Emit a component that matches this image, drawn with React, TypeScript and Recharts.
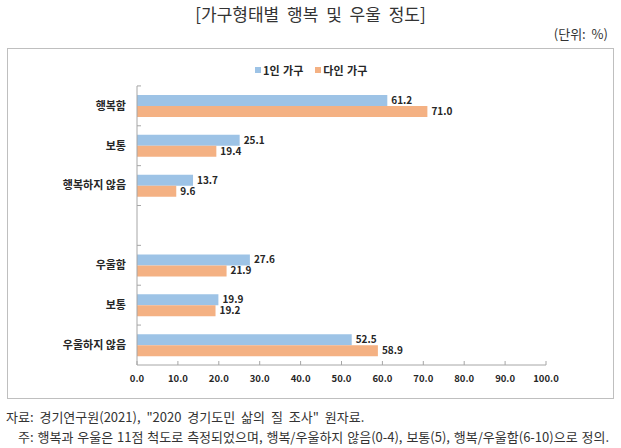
import React from 'react';
import { BarChart, Bar, XAxis, YAxis, LabelList } from 'recharts';

const COLORS = {
  single: '#9DC3E6',
  multi: '#F4B183',
  axis: '#A6A6A6',
  text: '#262626',
};

const FONT = '"Noto Sans CJK KR", "Noto Sans", sans-serif';

// categories, top to bottom; the empty one is the spacer row between the two groups
const categories = ['행복함', '보통', '행복하지 않음', '', '우울함', '보통', '우울하지 않음'];
const singleHousehold = [61.2, 25.1, 13.7, null, 27.6, 19.9, 52.5];
const multiHousehold = [71.0, 19.4, 9.6, null, 21.9, 19.2, 58.9];
const xTicks = [0, 10, 20, 30, 40, 50, 60, 70, 80, 90, 100];

const data = categories.map((name, i) => ({
  key: `c${i}`,
  name,
  single: singleHousehold[i],
  multi: multiHousehold[i],
}));

const fmt = (v: any) => (v == null ? '' : Number(v).toFixed(1));

function CategoryTick(props: any) {
  const { x, y, payload } = props;
  const label = categories[payload.index] ?? '';
  return (
    <g>
      <line x1={x + 11} y1={y - 20} x2={x + 15} y2={y - 20} stroke={COLORS.axis} />
      <text
        x={x}
        y={y}
        dy="0.35em"
        textAnchor="end"
        fontSize={11}
        fontWeight={700}
        fill={COLORS.text}
        fontFamily={FONT}
      >
        {label}
      </text>
    </g>
  );
}

function ValueTick(props: any) {
  const { x, y, payload } = props;
  return (
    <g>
      <line x1={x} y1={y - 10} x2={x} y2={y - 14} stroke={COLORS.axis} />
      <text
        x={x}
        y={y}
        dy="0.75em"
        textAnchor="middle"
        fontSize={9.5}
        fontWeight={700}
        fill={COLORS.text}
        fontFamily={FONT}
      >
        {Number(payload.value).toFixed(1)}
      </text>
    </g>
  );
}

function LegendItem({ color, label }: { color: string; label: string }) {
  return (
    <span style={{ display: 'inline-flex', alignItems: 'center', marginRight: 12 }}>
      <span style={{ width: 6, height: 6, background: color, marginRight: 2 }} />
      <span>{label}</span>
    </span>
  );
}

export default function App() {
  return (
    <div
      style={{
        position: 'absolute',
        left: 0,
        top: 0,
        width: 621,
        height: 448,
        background: '#fff',
        fontFamily: FONT,
        color: COLORS.text,
      }}
    >
      <div
        style={{
          position: 'absolute',
          top: 1,
          width: 621,
          textAlign: 'center',
          fontSize: 17,
          wordSpacing: 4,
          color: '#333',
        }}
      >
        [가구형태별 행복 및 우울 정도]
      </div>
      <div
        style={{
          position: 'absolute',
          top: 24,
          right: 13,
          fontSize: 13,
          wordSpacing: 3,
          color: '#333',
        }}
      >
        (단위: %)
      </div>

      <div
        style={{
          position: 'absolute',
          left: 7,
          top: 48,
          width: 605,
          height: 349,
          border: '1px solid #BFBFBF',
        }}
      >
        <div
          style={{
            position: 'absolute',
            top: 13,
            left: 247,
            fontSize: 11,
            fontWeight: 700,
            wordSpacing: 1,
            display: 'flex',
            zIndex: 1,
          }}
        >
          <LegendItem color={COLORS.single} label="1인 가구" />
          <LegendItem color={COLORS.multi} label="다인 가구" />
        </div>
        <BarChart
          width={605}
          height={349}
          data={data}
          layout="vertical"
          margin={{ top: 37, right: 67, left: 0, bottom: 3 }}
          barSize={11}
          barGap={0}
        >
          <XAxis
            type="number"
            domain={[0, 100]}
            ticks={xTicks}
            height={30}
            axisLine={{ stroke: COLORS.axis }}
            tickLine={false}
            tickSize={0}
            tickMargin={10}
            tick={<ValueTick />}
            interval={0}
          />
          <YAxis
            type="category"
            dataKey="key"
            width={129}
            axisLine={{ stroke: COLORS.axis }}
            tickLine={false}
            tickSize={0}
            tickMargin={11}
            tick={<CategoryTick />}
            interval={0}
          />
          <Bar dataKey="single" fill={COLORS.single} isAnimationActive={false}>
            <LabelList
              dataKey="single"
              position="right"
              offset={4}
              formatter={fmt}
              fontSize={10}
              fontWeight={700}
              fill={COLORS.text}
              fontFamily={FONT}
            />
          </Bar>
          <Bar dataKey="multi" fill={COLORS.multi} isAnimationActive={false}>
            <LabelList
              dataKey="multi"
              position="right"
              offset={4}
              formatter={fmt}
              fontSize={10}
              fontWeight={700}
              fill={COLORS.text}
              fontFamily={FONT}
            />
          </Bar>
        </BarChart>
      </div>

      <div
        style={{
          position: 'absolute',
          left: 6,
          top: 407,
          fontSize: 13,
          wordSpacing: 3,
          color: '#333',
          whiteSpace: 'nowrap',
        }}
      >
        자료: 경기연구원(2021), "2020 경기도민 삶의 질 조사" 원자료.
      </div>
      <div
        style={{
          position: 'absolute',
          left: 18,
          top: 427,
          fontSize: 13,
          wordSpacing: 1,
          color: '#333',
          whiteSpace: 'nowrap',
        }}
      >
        주: 행복과 우울은 11점 척도로 측정되었으며, 행복/우울하지 않음(0-4), 보통(5), 행복/우울함(6-10)으로 정의.
      </div>
    </div>
  );
}
